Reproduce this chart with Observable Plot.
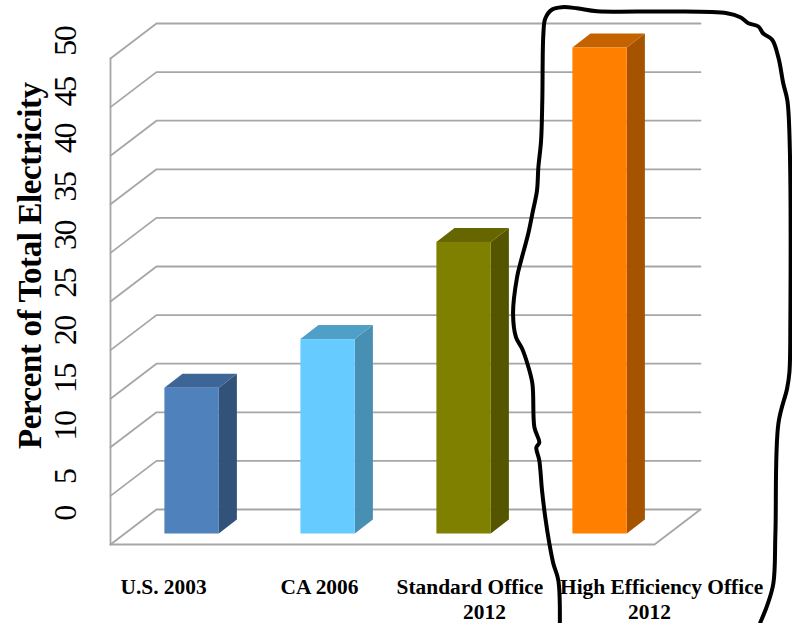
<!DOCTYPE html>
<html><head><meta charset="utf-8">
<style>html,body{margin:0;padding:0;background:#fff}svg{display:block}
.tk text{letter-spacing:-1.5px}
.ttl text{letter-spacing:-0.4px}
</style>
<script src="https://cdn.jsdelivr.net/npm/d3@7"></script>
<script src="https://cdn.jsdelivr.net/npm/@observablehq/plot@0.6"></script>
</head><body><div id="c"></div>
<script>
const categories = ["U.S. 2003","CA 2006","Standard Office 2012","High Efficiency Office 2012"];
const values = [15,20,30,50];
const frontColors = ["#4F81BD","#66CCFF","#808000","#FF8000"];
const sideColors = ["#32527A","#478FB3","#555500","#A65300"];
const topColors = ["#3D6596","#4F9FC7","#666600","#C46200"];
const gridValues = [0,5,10,15,20,25,30,35,40,45,50];
const tickLabels = ["0","5","10","15","20","25","30","35","40","45","50"];
const tickLabelY = [2.1,5.9,11.1,16,20.9,25.8,30.7,35.7,40.7,45.5,50.7];
const catLabels = [
  {t:"U.S. 2003",x:-0.21,y:-5.5},{t:"CA 2006",x:0.937,y:-5.5},
  {t:"Standard Office",x:2.043,y:-5.5},{t:"2012",x:2.15,y:-8.0},
  {t:"High Efficiency Office",x:3.452,y:-5.5},{t:"2012",x:3.363,y:-8.0}];
const sketchX = [2.704,2.693,2.656,2.627,2.597,2.573,2.553,2.531,2.553,2.517,2.502,2.465,2.426,2.382,2.36,2.389,2.419,2.472,2.502,2.536,2.546,2.566,2.575,2.583,2.597,2.647,2.72,2.831,2.978,3.492,3.933,4.031,4.09,4.164,4.2,4.264,4.311,4.347,4.377,4.392,4.399,4.392,4.375,4.311,4.289,4.274,4.228,4.178];
const sketchY = [-9.21,-4.78,-3.03,-0.98,1.7,4.48,7.56,8.9,9.41,10.96,15.48,17.54,19.08,20.22,22.69,26.39,28.14,30.92,32.97,35.34,37.71,40.48,44.6,51.49,53.04,53.96,54.2,54.09,53.79,53.76,53.58,53.17,52.55,52.21,51.49,50.87,49.02,46.35,44.6,41.2,21.97,16.62,14.97,11.37,0.05,-5.09,-7.36,-9.1];

// oblique-projection constants, in the chart's own units (category steps, percent)
const left = -0.6, right = 3.4, wallDx = 0.338, wallDy = 3.6, frontDy = -1.08;
const barHalf = 0.2, barDx = 0.133, barDy = 1.44;

const grid = gridValues.flatMap(v => [
  {v,x:left,y:v+frontDy},{v,x:left+wallDx,y:v+frontDy+wallDy},{v,x:right+wallDx,y:v+frontDy+wallDy}]);
const axisLine = [{x:left,y:frontDy},{x:left,y:50+frontDy}];
const floor = [{x:left,y:frontDy},{x:right,y:frontDy},{x:right+wallDx,y:frontDy+wallDy}];

const faces = values.flatMap((v,i)=>{
  const a=i-barHalf,b=i+barHalf;
  return [
    {id:"s"+i,c:sideColors[i],x:b,y1:0,y2:v},
    {id:"s"+i,c:sideColors[i],x:b+barDx,y1:barDy,y2:v+barDy},
    {id:"t"+i,c:topColors[i],x:a,y1:v,y2:v},
    {id:"t"+i,c:topColors[i],x:a+barDx,y1:v,y2:v+barDy},
    {id:"t"+i,c:topColors[i],x:b,y1:v,y2:v+barDy},
    {id:"t"+i,c:topColors[i],x:b+barDx,y1:v+barDy,y2:v+barDy}
  ];
});
const fronts = values.map((v,i)=>({x1:i-barHalf,x2:i+barHalf,v,c:frontColors[i],name:categories[i]}));
const sketch = sketchX.map((x,i)=>({x,y:sketchY[i]}));
const ticks = tickLabels.map((t,i)=>({t,y:tickLabelY[i]}));
const serif = "Liberation Serif";

const chart = Plot.plot({
  width:792,height:623,margin:0,
  style:{background:"#fff",fontFamily:serif},
  x:{domain:[left,right],range:[110,654],axis:null},
  y:{domain:[0,50],range:[533.5,47.5],axis:null},
  color:{type:"identity"},
  marks:[
    Plot.line(grid,{x:"x",y:"y",z:"v",stroke:"#a6a6a6",strokeWidth:1.8,curve:"linear"}),
    Plot.line(floor,{x:"x",y:"y",stroke:"#a6a6a6",strokeWidth:1.8}),
    Plot.line(axisLine,{x:"x",y:"y",stroke:"#a6a6a6",strokeWidth:1.8}),
    Plot.area(faces,{x1:"x",y1:"y1",y2:"y2",z:"id",fill:"c"}),
    Plot.rectY(fronts,{x1:"x1",x2:"x2",y1:0,y2:"v",fill:"c",title:"name"}),
    Plot.text(ticks,{x:()=>-0.931,y:"y",text:"t",rotate:-90,fontSize:32,fill:"#000",className:"tk"}),
    Plot.text(["Percent of Total Electricity"],{x:()=>-1.19,y:()=>27.6,text:d=>d,rotate:-90,fontSize:33,fontWeight:"bold",fill:"#000",className:"ttl"}),
    Plot.text(catLabels,{x:"x",y:"y",text:"t",fontSize:21.4,fontWeight:"bold",fill:"#000"}),
    Plot.line(sketch,{x:"x",y:"y",stroke:"#000",strokeWidth:4,curve:"catmull-rom"})
  ]
});
document.getElementById("c").append(chart);
</script></body></html>
